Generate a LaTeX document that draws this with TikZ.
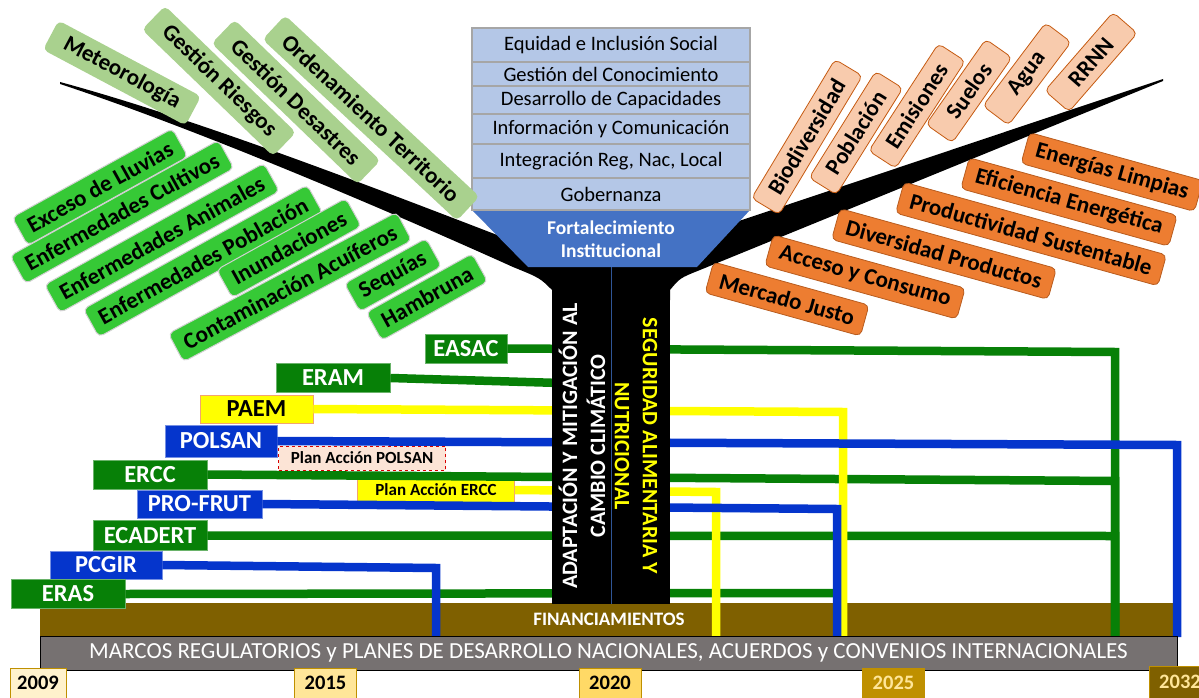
\documentclass[tikz,border=0pt]{standalone}
\usepackage{fontspec}
\setmainfont{Carlito}
\newcommand\fsz[2]{\fontsize{#1}{#2}\selectfont}
\definecolor{lgreen}{HTML}{A9D18E}
\definecolor{bgreen}{HTML}{36C936}
\definecolor{peach}{HTML}{F8CBAD}
\definecolor{peachline}{HTML}{C55A11}
\definecolor{orng}{HTML}{ED7D31}
\definecolor{orngline}{HTML}{B85C1F}
\definecolor{stackfill}{HTML}{B4C7E7}
\definecolor{stackline}{HTML}{A6A6A6}
\definecolor{funnelc}{HTML}{4472C4}
\definecolor{dgreen}{HTML}{078007}
\definecolor{dblue}{HTML}{0535CC}
\definecolor{yel}{HTML}{FFFF00}
\definecolor{brownc}{HTML}{7F6000}
\definecolor{grayc}{HTML}{767171}
\definecolor{yr1}{HTML}{FFF2CC}
\definecolor{yr2}{HTML}{FFE699}
\definecolor{yr3}{HTML}{FFD966}
\definecolor{yr4}{HTML}{BF9000}
\definecolor{yrtext}{HTML}{FFE699}
\definecolor{divc}{HTML}{2F5597}
\definecolor{planpeach}{HTML}{FCE4D6}
\tikzset{
  lgbox/.style={fill=lgreen, rounded corners=5pt, inner xsep=16pt, inner ysep=0pt, minimum height=33pt, font=\bfseries\fsz{23}{27}},
  bgbox/.style={fill=bgreen, draw=white!82!black, line width=1pt, rounded corners=5pt, inner xsep=10pt, inner ysep=0pt, minimum height=32pt, font=\bfseries\fsz{23}{27}},
  pcbox/.style={fill=peach, draw=peachline, line width=0.8pt, rounded corners=5pt, inner xsep=16pt, inner ysep=0pt, minimum height=32pt, minimum width=104pt, font=\bfseries\fsz{23}{27}},
  orbox/.style={fill=orng, draw=orngline, line width=0.8pt, rounded corners=5pt, inner xsep=11pt, inner ysep=0pt, minimum height=32pt, font=\bfseries\fsz{23}{27}},
  stk/.style={fill=stackfill, draw=stackline, line width=1.5pt, minimum width=278pt, inner sep=0pt, font=\fsz{20.5}{24}},
  labbase/.style={inner sep=0pt, line width=0.8pt, font=\bfseries\fsz{24.5}{28}},
  glab/.style={labbase, fill=dgreen, draw=dgreen!60!white, text=white},
  blab/.style={labbase, fill=dblue, draw=dblue!55!white, text=white},
  ylab/.style={labbase, fill=yel, draw=orng!70!white, text=black},
  planlab/.style={inner sep=0pt, line width=0.8pt, font=\bfseries\fsz{17}{20}},
  gline/.style={draw=dgreen, line width=8.5pt},
  bline/.style={draw=dblue, line width=8.5pt},
  yline/.style={draw=yel, line width=8.5pt},
  yearbox/.style={draw=yr4, line width=0.8pt, minimum width=62pt, minimum height=30pt, inner sep=0pt, font=\bfseries\fsz{20.5}{24}},
}
\begin{document}
\begin{tikzpicture}[x=1pt,y=-1pt]
\useasboundingbox (0,0) rectangle (1199,698);

% financing bar
\fill[brownc] (40,603) rectangle (1180,636);

% coordinates for connectors
\coordinate (easacR) at (1115,352);
\coordinate (easacB) at (1115,637);
\coordinate (eramT) at (560,383);
\coordinate (paemR) at (843,412);
\coordinate (paemB) at (843,637);
\coordinate (polsanR) at (1177,445);
\coordinate (polsanB) at (1177,637);
\coordinate (erccR) at (1115,481);
\coordinate (paercR) at (716,492);
\coordinate (paercB) at (716,637);
\coordinate (profR) at (837,509);
\coordinate (profB) at (837,637);
\coordinate (ecadR) at (1115,536);
\coordinate (pcgirR) at (436,568);
\coordinate (pcgirB) at (436,637);
\coordinate (erasR) at (837,593);

% labels (left)
\node[glab, minimum width=82pt, minimum height=29pt] (easac) at (466,348.5) {EASAC};
\node[glab, minimum width=114pt, minimum height=29pt] (eram) at (333,378) {ERAM};
\node[ylab, minimum width=113pt, minimum height=28pt] (paem) at (256.5,409) {PAEM};
\node[blab, minimum width=112pt, minimum height=32pt] (polsan) at (221,441) {POLSAN};
\node[glab, minimum width=114pt, minimum height=29pt] (ercc) at (150,474.5) {ERCC};
\node[blab, minimum width=125pt, minimum height=28pt] (profrut) at (199.5,504) {PRO-FRUT};
\node[glab, minimum width=114pt, minimum height=30pt] (ecadert) at (150,535.5) {ECADERT};
\node[blab, minimum width=112pt, minimum height=28pt] (pcgir) at (106,565) {PCGIR};
\node[glab, minimum width=114pt, minimum height=29pt] (eras) at (68,594) {ERAS};
\node[planlab, fill=yel, draw=orng!70!white, minimum width=157pt, minimum height=25pt] (paercc) at (436,490) {Plan Acción ERCC};

% connectors
\draw[gline] (ecadert.east) -- (ecadR) -- (easacB);
\draw[gline] (ercc.east) -- (erccR) -- (easacB);
\draw[gline] (easac.east) -- (easacR) -- (easacB);
\draw[gline] (eram.east) -- (eramT);
\draw[gline] (eras.east) -- (erasR);
\draw[yline] (paem.east) -- (paemR) -- (paemB);
\draw[yline] (paercc.east) -- (paercR) -- (paercB);
\draw[bline] (polsan.east) -- (polsanR) -- (polsanB);
\draw[bline] (profrut.east) -- (profR) -- (profB);
\draw[bline] (pcgir.east) -- (pcgirR) -- (pcgirB);

% branches and trunk
\fill[black] (60,82) .. controls (200,120) and (380,190) .. (505,238) -- (560,250) -- (560,300) -- (552,300) -- (552,290) .. controls (540,278) .. (513,267) .. controls (400,216) and (200,130) .. (60,84) -- cycle;
\fill[black] (1163,79) -- (733,223) -- (660,250) -- (660,300) -- (670,300) -- (670,290) .. controls (680,278) .. (700,270) -- (1163,81) -- cycle;
\fill[black] (552,255) rectangle (670,604);
\draw[divc, line width=0.8pt] (611,267) -- (611,604);

\node[rotate=90, text=white, font=\bfseries\fsz{22}{28}, align=center] (adapt) at (582,446) {ADAPTACIÓN Y MITIGACIÓN AL\\CAMBIO CLIMÁTICO};
\node[rotate=-90, text=yel, font=\bfseries\fsz{22}{28}, align=center] (segur) at (636,446) {SEGURIDAD ALIMENTARIA Y\\NUTRICIONAL};

% funnel and stack
\fill[funnelc] (472,210) -- (750,210) -- (697,267) -- (528,267) -- cycle;
\node[text=white, font=\bfseries\fsz{19.5}{23}, align=center] (fort) at (611,239) {Fortalecimiento\\Institucional};
\node[stk, minimum height=34pt] (s1) at (611,45) {Equidad e Inclusión Social};
\node[stk, minimum height=24pt] (s2) at (611,74) {Gestión del Conocimiento};
\node[stk, minimum height=28pt] (s3) at (611,100) {Desarrollo de Capacidades};
\node[stk, minimum height=30pt] (s4) at (611,129) {Información y Comunicación};
\node[stk, minimum height=34pt] (s5) at (611,161) {Integración Reg, Nac, Local};
\node[stk, minimum height=32pt] (s6) at (611,194) {Gobernanza};

% light green leaves
\node[lgbox, rotate=-28] (l1) at (122,73) {Meteorología};
\node[lgbox, rotate=-44] (l2) at (219,81) {Gestión Riesgos};
\node[lgbox, rotate=-44] (l3) at (296,102) {Gestión Desastres};
\node[lgbox, rotate=-43] (l4) at (371,118) {Ordenamiento Territorio};

% bright green leaves
\node[bgbox, rotate=29] (g1) at (100,187) {Exceso de Lluvias};
\node[bgbox, rotate=29] (g2) at (122,212) {Enfermedades Cultivos};
\node[bgbox, rotate=29] (g3) at (162,238) {Enfermedades Animales};
\node[bgbox, rotate=29] (g4) at (203,261) {Enfermedades Población};
\node[bgbox, rotate=29] (g5) at (289,248) {Inundaciones};
\node[bgbox, rotate=28] (g6) at (290,287) {Contaminación Acuíferos};
\node[bgbox, rotate=29] (g7) at (393,275) {Sequías};
\node[bgbox, rotate=29] (g8) at (427,297) {Hambruna};

% peach leaves
\node[pcbox, rotate=59] (p1) at (807,137) {Biodiversidad};
\node[pcbox, rotate=58] (p2) at (856,133) {Población};
\node[pcbox, rotate=57] (p3) at (917,106) {Emisiones};
\node[pcbox, rotate=55] (p4) at (969,91) {Suelos};
\node[pcbox, rotate=53] (p5) at (1027,74) {Agua};
\node[pcbox, rotate=49] (p6) at (1091,62) {RRNN};

% orange leaves
\node[orbox, rotate=-15.5] (o1) at (1112,172) {Energías Limpias};
\node[orbox, rotate=-15.5] (o2) at (1069,202) {Eficiencia Energética};
\node[orbox, rotate=-15.5] (o3) at (1031,234) {Productividad Sustentable};
\node[orbox, rotate=-15.5] (o4) at (944,254) {Diversidad Productos};
\node[orbox, rotate=-15.5] (o5) at (865,277) {Acceso y Consumo};
\node[orbox, rotate=-15.5] (o6) at (787,299) {Mercado Justo};

% plan POLSAN label
\node[planlab, fill=planpeach, draw=red!85!black, dashed, minimum width=167pt, minimum height=24pt] (papol) at (362,458) {Plan Acción POLSAN};

% bottom bars
\node[text=white, font=\bfseries\fsz{19}{22}] (finan) at (609,619) {FINANCIAMIENTOS};
\node[fill=grayc, draw=black, line width=1pt, minimum width=1137pt, minimum height=34pt, inner sep=0pt, text=white, font=\fsz{23}{26}] (marcos) at (608.5,653) {MARCOS REGULATORIOS y PLANES DE DESARROLLO NACIONALES, ACUERDOS y CONVENIOS INTERNACIONALES};

% years
\node[yearbox, fill=yr1, minimum width=56pt] (y2009) at (38,683) {2009};
\node[yearbox, fill=yr2] (y2015) at (325.5,683) {2015};
\node[yearbox, fill=yr3] (y2020) at (610,683) {2020};
\node[yearbox, fill=yr4, text=yrtext] (y2025) at (893.5,683) {2025};
\node[yearbox, fill=brownc, text=yrtext, minimum height=32pt] (y2032) at (1180,682) {2032};
\end{tikzpicture}
\end{document}
